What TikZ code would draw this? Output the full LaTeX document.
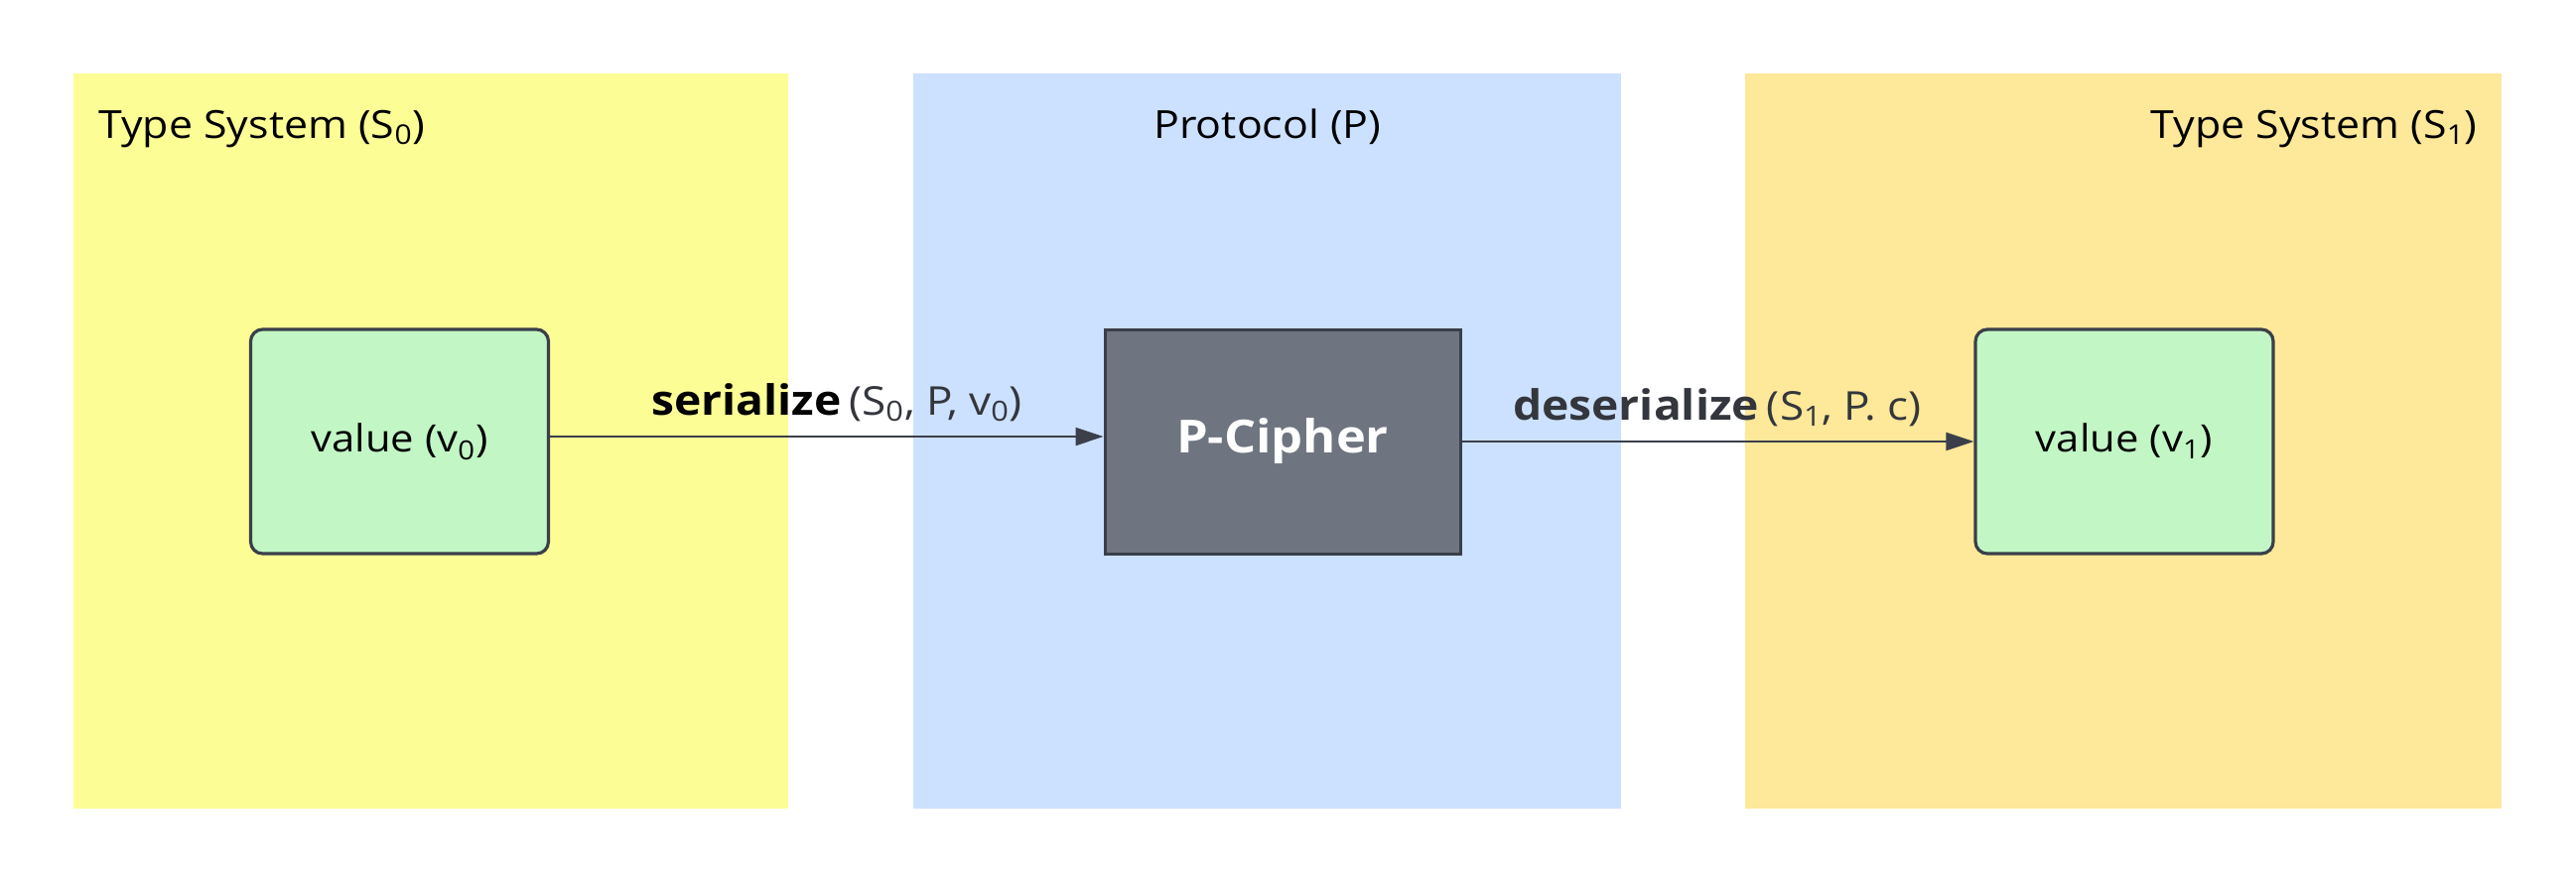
\documentclass[tikz,border=0pt]{standalone}
\usepackage{fontspec}
\setmainfont[FakeStretch=1.1]{Open Sans}
\usetikzlibrary{arrows.meta}
\definecolor{yel}{RGB}{253,253,150}
\definecolor{blu}{RGB}{204,225,255}
\definecolor{ora}{RGB}{254,232,153}
\definecolor{grn}{RGB}{194,247,197}
\definecolor{edgec}{RGB}{58,63,74}
\definecolor{ciph}{RGB}{110,116,128}
\definecolor{lblgray}{RGB}{51,54,60}
\tikzset{
  title/.style={inner sep=0pt, text=black, font=\fontsize{19.5pt}{23pt}\selectfont},
  valbox/.style={draw=edgec, line width=1.6pt, fill=grn, rounded corners=6pt,
    minimum width=150pt, minimum height=113pt, inner sep=0pt,
    font=\fontsize{19pt}{23pt}\selectfont, text=black},
  cipherbox/.style={draw=edgec, line width=1.5pt, fill=ciph,
    minimum width=179pt, minimum height=113pt, inner sep=0pt,
    font=\fontsize{23pt}{27pt}\selectfont\bfseries, text=white},
  flow/.style={draw=edgec, line width=1.2pt, -{Triangle[length=14pt,width=9pt]}},
  lbl/.style={inner sep=0pt, anchor=base},
}
\begin{document}
\begin{tikzpicture}[x=0.5pt,y=-0.5pt]
\useasboundingbox (0,0) rectangle (2595,891);
\fill[white] (0,0) rectangle (2595,891);
% panels
\fill[yel] (74,74) rectangle (794,815);
\fill[blu] (920,74) rectangle (1633,815);
\fill[ora] (1758,74) rectangle (2520,815);
% titles
\node[title, anchor=base west] (t0) at (99,139) {Type System (S\textsubscript{0})};
\node[title, anchor=base] (tp) at (1277,139) {Protocol (P)};
\node[title, anchor=base east] (t1) at (2496,139) {Type System (S\textsubscript{1})};
% boxes
\node[valbox] (v0) at (402.5,445) {value (v\textsubscript{0})};
\node[cipherbox] (pc) at (1292,445) {P-Cipher};
\node[valbox] (v1) at (2140,445) {value (v\textsubscript{1})};
% arrows
\draw[flow] ([yshift=2.5pt]v0.east) -- ([yshift=2.5pt]pc.west);
\draw[flow] (pc.east) -- (v1.west);
% labels
\node[lbl] (sl) at (843,418) {\fontsize{21pt}{25pt}\selectfont{\bfseries serialize}\hspace{4pt}{\color{lblgray}\fontsize{20pt}{24pt}\selectfont(S\textsubscript{0}, P, v\textsubscript{0})}};
\node[lbl, text=lblgray] (dl) at (1730,423) {\fontsize{21pt}{25pt}\selectfont{\bfseries deserialize}\hspace{4pt}{\fontsize{20pt}{24pt}\selectfont(S\textsubscript{1}, P. c)}};
\end{tikzpicture}
\end{document}
